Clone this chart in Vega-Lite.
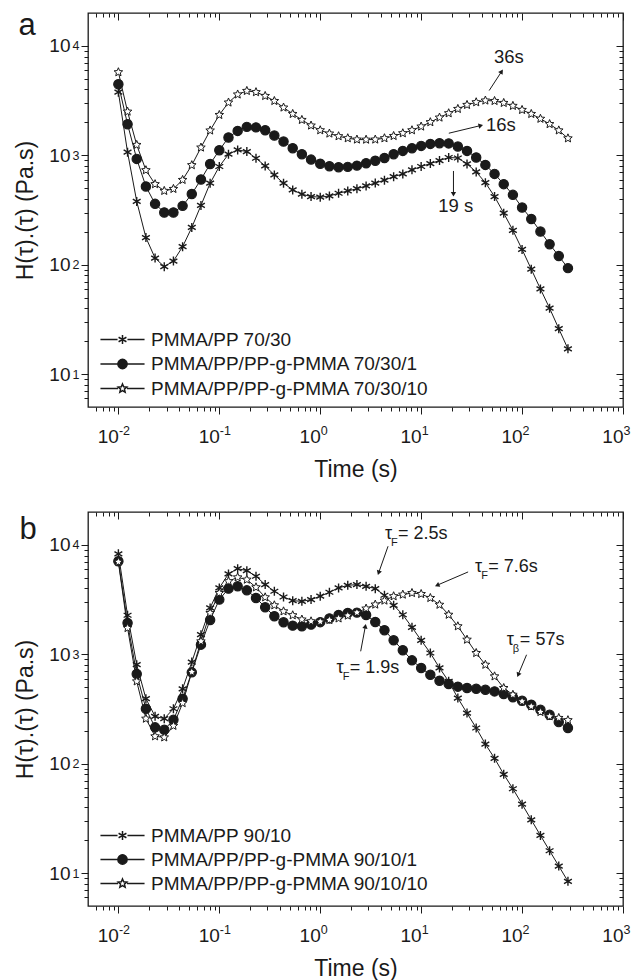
{
"$schema": "https://vega.github.io/schema/vega-lite/v6.json",
"background": "white",
"padding": {"left": 14, "top": 8, "right": 5, "bottom": 0},
"spacing": 28,
"config": {
  "font": "Liberation Sans",
  "view": {"stroke": "#1a1a1a", "strokeWidth": 1.3},
  "axis": {"grid": false, "domain": false, "tickColor": "#1a1a1a", "tickWidth": 1, "labelColor": "#1a1a1a", "titleColor": "#1a1a1a", "labelFont": "Liberation Sans", "titleFont": "Liberation Sans", "titleFontWeight": "normal", "labelFlush": false, "labelOverlap": false},
  "text": {"font": "Liberation Sans", "color": "#1a1a1a"}
},
"datasets": {
"curves": [
{"p":"a","s":"PMMA/PP 70/30","t":0.01,"v":3780},{"p":"a","s":"PMMA/PP 70/30","t":0.01233,"v":1067},{"p":"a","s":"PMMA/PP 70/30","t":0.0152,"v":379},{"p":"a","s":"PMMA/PP 70/30","t":0.01874,"v":177},{"p":"a","s":"PMMA/PP 70/30","t":0.0231,"v":115},{"p":"a","s":"PMMA/PP 70/30","t":0.02848,"v":96},{"p":"a","s":"PMMA/PP 70/30","t":0.03511,"v":108},{"p":"a","s":"PMMA/PP 70/30","t":0.04329,"v":146},{"p":"a","s":"PMMA/PP 70/30","t":0.05337,"v":219},{"p":"a","s":"PMMA/PP 70/30","t":0.06579,"v":348},
{"p":"a","s":"PMMA/PP 70/30","t":0.08111,"v":556},{"p":"a","s":"PMMA/PP 70/30","t":0.1,"v":790},{"p":"a","s":"PMMA/PP 70/30","t":0.1233,"v":1023},{"p":"a","s":"PMMA/PP 70/30","t":0.152,"v":1120},{"p":"a","s":"PMMA/PP 70/30","t":0.1874,"v":1083},{"p":"a","s":"PMMA/PP 70/30","t":0.231,"v":940},{"p":"a","s":"PMMA/PP 70/30","t":0.2848,"v":800},{"p":"a","s":"PMMA/PP 70/30","t":0.3511,"v":662},{"p":"a","s":"PMMA/PP 70/30","t":0.4329,"v":556},{"p":"a","s":"PMMA/PP 70/30","t":0.5337,"v":483},
{"p":"a","s":"PMMA/PP 70/30","t":0.6579,"v":441},{"p":"a","s":"PMMA/PP 70/30","t":0.8111,"v":420},{"p":"a","s":"PMMA/PP 70/30","t":1,"v":414},{"p":"a","s":"PMMA/PP 70/30","t":1.233,"v":425},{"p":"a","s":"PMMA/PP 70/30","t":1.52,"v":450},{"p":"a","s":"PMMA/PP 70/30","t":1.874,"v":472},{"p":"a","s":"PMMA/PP 70/30","t":2.31,"v":495},{"p":"a","s":"PMMA/PP 70/30","t":2.848,"v":525},{"p":"a","s":"PMMA/PP 70/30","t":3.511,"v":558},{"p":"a","s":"PMMA/PP 70/30","t":4.329,"v":592},
{"p":"a","s":"PMMA/PP 70/30","t":5.337,"v":638},{"p":"a","s":"PMMA/PP 70/30","t":6.579,"v":676},{"p":"a","s":"PMMA/PP 70/30","t":8.111,"v":736},{"p":"a","s":"PMMA/PP 70/30","t":10,"v":790},{"p":"a","s":"PMMA/PP 70/30","t":12.33,"v":841},{"p":"a","s":"PMMA/PP 70/30","t":15.2,"v":895},{"p":"a","s":"PMMA/PP 70/30","t":18.74,"v":955},{"p":"a","s":"PMMA/PP 70/30","t":23.1,"v":945},{"p":"a","s":"PMMA/PP 70/30","t":28.48,"v":835},{"p":"a","s":"PMMA/PP 70/30","t":35.11,"v":705},
{"p":"a","s":"PMMA/PP 70/30","t":43.29,"v":562},{"p":"a","s":"PMMA/PP 70/30","t":53.37,"v":420},{"p":"a","s":"PMMA/PP 70/30","t":65.79,"v":296},{"p":"a","s":"PMMA/PP 70/30","t":81.11,"v":206},{"p":"a","s":"PMMA/PP 70/30","t":100,"v":138},{"p":"a","s":"PMMA/PP 70/30","t":123.3,"v":91},{"p":"a","s":"PMMA/PP 70/30","t":152,"v":60},{"p":"a","s":"PMMA/PP 70/30","t":187.4,"v":40},{"p":"a","s":"PMMA/PP 70/30","t":231,"v":26},{"p":"a","s":"PMMA/PP 70/30","t":284.8,"v":17},
{"p":"a","s":"PMMA/PP/PP-g-PMMA 70/30/1","t":0.01,"v":4470},{"p":"a","s":"PMMA/PP/PP-g-PMMA 70/30/1","t":0.01233,"v":1923},{"p":"a","s":"PMMA/PP/PP-g-PMMA 70/30/1","t":0.0152,"v":927},{"p":"a","s":"PMMA/PP/PP-g-PMMA 70/30/1","t":0.01874,"v":519},{"p":"a","s":"PMMA/PP/PP-g-PMMA 70/30/1","t":0.0231,"v":360},{"p":"a","s":"PMMA/PP/PP-g-PMMA 70/30/1","t":0.02848,"v":300},{"p":"a","s":"PMMA/PP/PP-g-PMMA 70/30/1","t":0.03511,"v":300},{"p":"a","s":"PMMA/PP/PP-g-PMMA 70/30/1","t":0.04329,"v":345},{"p":"a","s":"PMMA/PP/PP-g-PMMA 70/30/1","t":0.05337,"v":443},{"p":"a","s":"PMMA/PP/PP-g-PMMA 70/30/1","t":0.06579,"v":601},
{"p":"a","s":"PMMA/PP/PP-g-PMMA 70/30/1","t":0.08111,"v":834},{"p":"a","s":"PMMA/PP/PP-g-PMMA 70/30/1","t":0.1,"v":1113},{"p":"a","s":"PMMA/PP/PP-g-PMMA 70/30/1","t":0.1233,"v":1455},{"p":"a","s":"PMMA/PP/PP-g-PMMA 70/30/1","t":0.152,"v":1671},{"p":"a","s":"PMMA/PP/PP-g-PMMA 70/30/1","t":0.1874,"v":1820},{"p":"a","s":"PMMA/PP/PP-g-PMMA 70/30/1","t":0.231,"v":1800},{"p":"a","s":"PMMA/PP/PP-g-PMMA 70/30/1","t":0.2848,"v":1695},{"p":"a","s":"PMMA/PP/PP-g-PMMA 70/30/1","t":0.3511,"v":1517},{"p":"a","s":"PMMA/PP/PP-g-PMMA 70/30/1","t":0.4329,"v":1337},{"p":"a","s":"PMMA/PP/PP-g-PMMA 70/30/1","t":0.5337,"v":1161},
{"p":"a","s":"PMMA/PP/PP-g-PMMA 70/30/1","t":0.6579,"v":1023},{"p":"a","s":"PMMA/PP/PP-g-PMMA 70/30/1","t":0.8111,"v":914},{"p":"a","s":"PMMA/PP/PP-g-PMMA 70/30/1","t":1,"v":838},{"p":"a","s":"PMMA/PP/PP-g-PMMA 70/30/1","t":1.233,"v":795},{"p":"a","s":"PMMA/PP/PP-g-PMMA 70/30/1","t":1.52,"v":778},{"p":"a","s":"PMMA/PP/PP-g-PMMA 70/30/1","t":1.874,"v":784},{"p":"a","s":"PMMA/PP/PP-g-PMMA 70/30/1","t":2.31,"v":805},{"p":"a","s":"PMMA/PP/PP-g-PMMA 70/30/1","t":2.848,"v":846},{"p":"a","s":"PMMA/PP/PP-g-PMMA 70/30/1","t":3.511,"v":892},{"p":"a","s":"PMMA/PP/PP-g-PMMA 70/30/1","t":4.329,"v":945},
{"p":"a","s":"PMMA/PP/PP-g-PMMA 70/30/1","t":5.337,"v":1023},{"p":"a","s":"PMMA/PP/PP-g-PMMA 70/30/1","t":6.579,"v":1097},{"p":"a","s":"PMMA/PP/PP-g-PMMA 70/30/1","t":8.111,"v":1161},{"p":"a","s":"PMMA/PP/PP-g-PMMA 70/30/1","t":10,"v":1219},{"p":"a","s":"PMMA/PP/PP-g-PMMA 70/30/1","t":12.33,"v":1271},{"p":"a","s":"PMMA/PP/PP-g-PMMA 70/30/1","t":15.2,"v":1291},{"p":"a","s":"PMMA/PP/PP-g-PMMA 70/30/1","t":18.74,"v":1285},{"p":"a","s":"PMMA/PP/PP-g-PMMA 70/30/1","t":23.1,"v":1203},{"p":"a","s":"PMMA/PP/PP-g-PMMA 70/30/1","t":28.48,"v":1097},{"p":"a","s":"PMMA/PP/PP-g-PMMA 70/30/1","t":35.11,"v":955},
{"p":"a","s":"PMMA/PP/PP-g-PMMA 70/30/1","t":43.29,"v":817},{"p":"a","s":"PMMA/PP/PP-g-PMMA 70/30/1","t":53.37,"v":676},{"p":"a","s":"PMMA/PP/PP-g-PMMA 70/30/1","t":65.79,"v":545},{"p":"a","s":"PMMA/PP/PP-g-PMMA 70/30/1","t":81.11,"v":435},{"p":"a","s":"PMMA/PP/PP-g-PMMA 70/30/1","t":100,"v":333},{"p":"a","s":"PMMA/PP/PP-g-PMMA 70/30/1","t":123.3,"v":262},{"p":"a","s":"PMMA/PP/PP-g-PMMA 70/30/1","t":152,"v":201},{"p":"a","s":"PMMA/PP/PP-g-PMMA 70/30/1","t":187.4,"v":154},{"p":"a","s":"PMMA/PP/PP-g-PMMA 70/30/1","t":231,"v":120},{"p":"a","s":"PMMA/PP/PP-g-PMMA 70/30/1","t":284.8,"v":93},
{"p":"a","s":"PMMA/PP/PP-g-PMMA 70/30/10","t":0.01,"v":5750},{"p":"a","s":"PMMA/PP/PP-g-PMMA 70/30/10","t":0.01233,"v":2510},{"p":"a","s":"PMMA/PP/PP-g-PMMA 70/30/10","t":0.0152,"v":1245},{"p":"a","s":"PMMA/PP/PP-g-PMMA 70/30/10","t":0.01874,"v":731},{"p":"a","s":"PMMA/PP/PP-g-PMMA 70/30/10","t":0.0231,"v":545},{"p":"a","s":"PMMA/PP/PP-g-PMMA 70/30/10","t":0.02848,"v":473},{"p":"a","s":"PMMA/PP/PP-g-PMMA 70/30/10","t":0.03511,"v":493},{"p":"a","s":"PMMA/PP/PP-g-PMMA 70/30/10","t":0.04329,"v":596},{"p":"a","s":"PMMA/PP/PP-g-PMMA 70/30/10","t":0.05337,"v":813},{"p":"a","s":"PMMA/PP/PP-g-PMMA 70/30/10","t":0.06579,"v":1178},
{"p":"a","s":"PMMA/PP/PP-g-PMMA 70/30/10","t":0.08111,"v":1687},{"p":"a","s":"PMMA/PP/PP-g-PMMA 70/30/10","t":0.1,"v":2340},{"p":"a","s":"PMMA/PP/PP-g-PMMA 70/30/10","t":0.1233,"v":3040},{"p":"a","s":"PMMA/PP/PP-g-PMMA 70/30/10","t":0.152,"v":3600},{"p":"a","s":"PMMA/PP/PP-g-PMMA 70/30/10","t":0.1874,"v":3880},{"p":"a","s":"PMMA/PP/PP-g-PMMA 70/30/10","t":0.231,"v":3780},{"p":"a","s":"PMMA/PP/PP-g-PMMA 70/30/10","t":0.2848,"v":3490},{"p":"a","s":"PMMA/PP/PP-g-PMMA 70/30/10","t":0.3511,"v":3140},{"p":"a","s":"PMMA/PP/PP-g-PMMA 70/30/10","t":0.4329,"v":2735},{"p":"a","s":"PMMA/PP/PP-g-PMMA 70/30/10","t":0.5337,"v":2390},
{"p":"a","s":"PMMA/PP/PP-g-PMMA 70/30/10","t":0.6579,"v":2107},{"p":"a","s":"PMMA/PP/PP-g-PMMA 70/30/10","t":0.8111,"v":1872},{"p":"a","s":"PMMA/PP/PP-g-PMMA 70/30/10","t":1,"v":1695},{"p":"a","s":"PMMA/PP/PP-g-PMMA 70/30/10","t":1.233,"v":1582},{"p":"a","s":"PMMA/PP/PP-g-PMMA 70/30/10","t":1.52,"v":1495},{"p":"a","s":"PMMA/PP/PP-g-PMMA 70/30/10","t":1.874,"v":1433},{"p":"a","s":"PMMA/PP/PP-g-PMMA 70/30/10","t":2.31,"v":1394},{"p":"a","s":"PMMA/PP/PP-g-PMMA 70/30/10","t":2.848,"v":1390},{"p":"a","s":"PMMA/PP/PP-g-PMMA 70/30/10","t":3.511,"v":1394},{"p":"a","s":"PMMA/PP/PP-g-PMMA 70/30/10","t":4.329,"v":1433},
{"p":"a","s":"PMMA/PP/PP-g-PMMA 70/30/10","t":5.337,"v":1503},{"p":"a","s":"PMMA/PP/PP-g-PMMA 70/30/10","t":6.579,"v":1592},{"p":"a","s":"PMMA/PP/PP-g-PMMA 70/30/10","t":8.111,"v":1695},{"p":"a","s":"PMMA/PP/PP-g-PMMA 70/30/10","t":10,"v":1833},{"p":"a","s":"PMMA/PP/PP-g-PMMA 70/30/10","t":12.33,"v":2009},{"p":"a","s":"PMMA/PP/PP-g-PMMA 70/30/10","t":15.2,"v":2215},{"p":"a","s":"PMMA/PP/PP-g-PMMA 70/30/10","t":18.74,"v":2425},{"p":"a","s":"PMMA/PP/PP-g-PMMA 70/30/10","t":23.1,"v":2656},{"p":"a","s":"PMMA/PP/PP-g-PMMA 70/30/10","t":28.48,"v":2890},{"p":"a","s":"PMMA/PP/PP-g-PMMA 70/30/10","t":35.11,"v":3057},
{"p":"a","s":"PMMA/PP/PP-g-PMMA 70/30/10","t":43.29,"v":3170},{"p":"a","s":"PMMA/PP/PP-g-PMMA 70/30/10","t":53.37,"v":3140},{"p":"a","s":"PMMA/PP/PP-g-PMMA 70/30/10","t":65.79,"v":3013},{"p":"a","s":"PMMA/PP/PP-g-PMMA 70/30/10","t":81.11,"v":2833},{"p":"a","s":"PMMA/PP/PP-g-PMMA 70/30/10","t":100,"v":2600},{"p":"a","s":"PMMA/PP/PP-g-PMMA 70/30/10","t":123.3,"v":2390},{"p":"a","s":"PMMA/PP/PP-g-PMMA 70/30/10","t":152,"v":2160},{"p":"a","s":"PMMA/PP/PP-g-PMMA 70/30/10","t":187.4,"v":1930},{"p":"a","s":"PMMA/PP/PP-g-PMMA 70/30/10","t":231,"v":1690},{"p":"a","s":"PMMA/PP/PP-g-PMMA 70/30/10","t":284.8,"v":1430},
{"p":"b","s":"PMMA/PP 90/10","t":0.01,"v":8300},{"p":"b","s":"PMMA/PP 90/10","t":0.01233,"v":2275},{"p":"b","s":"PMMA/PP 90/10","t":0.0152,"v":803},{"p":"b","s":"PMMA/PP 90/10","t":0.01874,"v":393},{"p":"b","s":"PMMA/PP 90/10","t":0.0231,"v":271},{"p":"b","s":"PMMA/PP 90/10","t":0.02848,"v":258},{"p":"b","s":"PMMA/PP 90/10","t":0.03511,"v":318},{"p":"b","s":"PMMA/PP 90/10","t":0.04329,"v":484},{"p":"b","s":"PMMA/PP 90/10","t":0.05337,"v":849},{"p":"b","s":"PMMA/PP 90/10","t":0.06579,"v":1511},
{"p":"b","s":"PMMA/PP 90/10","t":0.08111,"v":2654},{"p":"b","s":"PMMA/PP 90/10","t":0.1,"v":4046},{"p":"b","s":"PMMA/PP 90/10","t":0.1233,"v":5432},{"p":"b","s":"PMMA/PP 90/10","t":0.152,"v":6066},{"p":"b","s":"PMMA/PP 90/10","t":0.1874,"v":5820},{"p":"b","s":"PMMA/PP 90/10","t":0.231,"v":5172},{"p":"b","s":"PMMA/PP 90/10","t":0.2848,"v":4338},{"p":"b","s":"PMMA/PP 90/10","t":0.3511,"v":3770},{"p":"b","s":"PMMA/PP 90/10","t":0.4329,"v":3342},{"p":"b","s":"PMMA/PP 90/10","t":0.5337,"v":3093},
{"p":"b","s":"PMMA/PP 90/10","t":0.6579,"v":3050},{"p":"b","s":"PMMA/PP 90/10","t":0.8111,"v":3163},{"p":"b","s":"PMMA/PP 90/10","t":1,"v":3397},{"p":"b","s":"PMMA/PP 90/10","t":1.233,"v":3694},{"p":"b","s":"PMMA/PP 90/10","t":1.52,"v":4046},{"p":"b","s":"PMMA/PP 90/10","t":1.874,"v":4274},{"p":"b","s":"PMMA/PP 90/10","t":2.31,"v":4338},{"p":"b","s":"PMMA/PP 90/10","t":2.848,"v":4188},{"p":"b","s":"PMMA/PP 90/10","t":3.511,"v":3985},{"p":"b","s":"PMMA/PP 90/10","t":4.329,"v":3467},
{"p":"b","s":"PMMA/PP 90/10","t":5.337,"v":2807},{"p":"b","s":"PMMA/PP 90/10","t":6.579,"v":2300},{"p":"b","s":"PMMA/PP 90/10","t":8.111,"v":1766},{"p":"b","s":"PMMA/PP 90/10","t":10,"v":1343},{"p":"b","s":"PMMA/PP 90/10","t":12.33,"v":1028},{"p":"b","s":"PMMA/PP 90/10","t":15.2,"v":750},{"p":"b","s":"PMMA/PP 90/10","t":18.74,"v":566},{"p":"b","s":"PMMA/PP 90/10","t":23.1,"v":398},{"p":"b","s":"PMMA/PP 90/10","t":28.48,"v":290},{"p":"b","s":"PMMA/PP 90/10","t":35.11,"v":212},
{"p":"b","s":"PMMA/PP 90/10","t":43.29,"v":151},{"p":"b","s":"PMMA/PP 90/10","t":53.37,"v":112},{"p":"b","s":"PMMA/PP 90/10","t":65.79,"v":80},{"p":"b","s":"PMMA/PP 90/10","t":81.11,"v":59},{"p":"b","s":"PMMA/PP 90/10","t":100,"v":42.6},{"p":"b","s":"PMMA/PP 90/10","t":123.3,"v":30.7},{"p":"b","s":"PMMA/PP 90/10","t":152,"v":22.1},{"p":"b","s":"PMMA/PP 90/10","t":187.4,"v":16},{"p":"b","s":"PMMA/PP 90/10","t":231,"v":11.6},{"p":"b","s":"PMMA/PP 90/10","t":284.8,"v":8.4},
{"p":"b","s":"PMMA/PP/PP-g-PMMA 90/10/1","t":0.01,"v":7100},{"p":"b","s":"PMMA/PP/PP-g-PMMA 90/10/1","t":0.01233,"v":1933},{"p":"b","s":"PMMA/PP/PP-g-PMMA 90/10/1","t":0.0152,"v":661},{"p":"b","s":"PMMA/PP/PP-g-PMMA 90/10/1","t":0.01874,"v":318},{"p":"b","s":"PMMA/PP/PP-g-PMMA 90/10/1","t":0.0231,"v":215},{"p":"b","s":"PMMA/PP/PP-g-PMMA 90/10/1","t":0.02848,"v":204},{"p":"b","s":"PMMA/PP/PP-g-PMMA 90/10/1","t":0.03511,"v":252},{"p":"b","s":"PMMA/PP/PP-g-PMMA 90/10/1","t":0.04329,"v":393},{"p":"b","s":"PMMA/PP/PP-g-PMMA 90/10/1","t":0.05337,"v":684},{"p":"b","s":"PMMA/PP/PP-g-PMMA 90/10/1","t":0.06579,"v":1225},
{"p":"b","s":"PMMA/PP/PP-g-PMMA 90/10/1","t":0.08111,"v":2059},{"p":"b","s":"PMMA/PP/PP-g-PMMA 90/10/1","t":0.1,"v":3163},{"p":"b","s":"PMMA/PP/PP-g-PMMA 90/10/1","t":0.1233,"v":3985},{"p":"b","s":"PMMA/PP/PP-g-PMMA 90/10/1","t":0.152,"v":4188},{"p":"b","s":"PMMA/PP/PP-g-PMMA 90/10/1","t":0.1874,"v":3843},{"p":"b","s":"PMMA/PP/PP-g-PMMA 90/10/1","t":0.231,"v":3275},{"p":"b","s":"PMMA/PP/PP-g-PMMA 90/10/1","t":0.2848,"v":2692},{"p":"b","s":"PMMA/PP/PP-g-PMMA 90/10/1","t":0.3511,"v":2228},{"p":"b","s":"PMMA/PP/PP-g-PMMA 90/10/1","t":0.4329,"v":1963},{"p":"b","s":"PMMA/PP/PP-g-PMMA 90/10/1","t":0.5337,"v":1829},
{"p":"b","s":"PMMA/PP/PP-g-PMMA 90/10/1","t":0.6579,"v":1805},{"p":"b","s":"PMMA/PP/PP-g-PMMA 90/10/1","t":0.8111,"v":1868},{"p":"b","s":"PMMA/PP/PP-g-PMMA 90/10/1","t":1,"v":1968},{"p":"b","s":"PMMA/PP/PP-g-PMMA 90/10/1","t":1.233,"v":2130},{"p":"b","s":"PMMA/PP/PP-g-PMMA 90/10/1","t":1.52,"v":2288},{"p":"b","s":"PMMA/PP/PP-g-PMMA 90/10/1","t":1.874,"v":2388},{"p":"b","s":"PMMA/PP/PP-g-PMMA 90/10/1","t":2.31,"v":2405},{"p":"b","s":"PMMA/PP/PP-g-PMMA 90/10/1","t":2.848,"v":2288},{"p":"b","s":"PMMA/PP/PP-g-PMMA 90/10/1","t":3.511,"v":1977},{"p":"b","s":"PMMA/PP/PP-g-PMMA 90/10/1","t":4.329,"v":1662},
{"p":"b","s":"PMMA/PP/PP-g-PMMA 90/10/1","t":5.337,"v":1343},{"p":"b","s":"PMMA/PP/PP-g-PMMA 90/10/1","t":6.579,"v":1089},{"p":"b","s":"PMMA/PP/PP-g-PMMA 90/10/1","t":8.111,"v":881},{"p":"b","s":"PMMA/PP/PP-g-PMMA 90/10/1","t":10,"v":750},{"p":"b","s":"PMMA/PP/PP-g-PMMA 90/10/1","t":12.33,"v":650},{"p":"b","s":"PMMA/PP/PP-g-PMMA 90/10/1","t":15.2,"v":574},{"p":"b","s":"PMMA/PP/PP-g-PMMA 90/10/1","t":18.74,"v":535},{"p":"b","s":"PMMA/PP/PP-g-PMMA 90/10/1","t":23.1,"v":506},{"p":"b","s":"PMMA/PP/PP-g-PMMA 90/10/1","t":28.48,"v":492},{"p":"b","s":"PMMA/PP/PP-g-PMMA 90/10/1","t":35.11,"v":484},
{"p":"b","s":"PMMA/PP/PP-g-PMMA 90/10/1","t":43.29,"v":474},{"p":"b","s":"PMMA/PP/PP-g-PMMA 90/10/1","t":53.37,"v":458},{"p":"b","s":"PMMA/PP/PP-g-PMMA 90/10/1","t":65.79,"v":433},{"p":"b","s":"PMMA/PP/PP-g-PMMA 90/10/1","t":81.11,"v":405},{"p":"b","s":"PMMA/PP/PP-g-PMMA 90/10/1","t":100,"v":376},{"p":"b","s":"PMMA/PP/PP-g-PMMA 90/10/1","t":123.3,"v":346},{"p":"b","s":"PMMA/PP/PP-g-PMMA 90/10/1","t":152,"v":311},{"p":"b","s":"PMMA/PP/PP-g-PMMA 90/10/1","t":187.4,"v":280},{"p":"b","s":"PMMA/PP/PP-g-PMMA 90/10/1","t":231,"v":240},{"p":"b","s":"PMMA/PP/PP-g-PMMA 90/10/1","t":284.8,"v":212},
{"p":"b","s":"PMMA/PP/PP-g-PMMA 90/10/10","t":0.01,"v":7000},{"p":"b","s":"PMMA/PP/PP-g-PMMA 90/10/10","t":0.01233,"v":1740},{"p":"b","s":"PMMA/PP/PP-g-PMMA 90/10/10","t":0.0152,"v":566},{"p":"b","s":"PMMA/PP/PP-g-PMMA 90/10/10","t":0.01874,"v":258},{"p":"b","s":"PMMA/PP/PP-g-PMMA 90/10/10","t":0.0231,"v":178},{"p":"b","s":"PMMA/PP/PP-g-PMMA 90/10/10","t":0.02848,"v":174},{"p":"b","s":"PMMA/PP/PP-g-PMMA 90/10/10","t":0.03511,"v":222},{"p":"b","s":"PMMA/PP/PP-g-PMMA 90/10/10","t":0.04329,"v":358},{"p":"b","s":"PMMA/PP/PP-g-PMMA 90/10/10","t":0.05337,"v":689},{"p":"b","s":"PMMA/PP/PP-g-PMMA 90/10/10","t":0.06579,"v":1314},
{"p":"b","s":"PMMA/PP/PP-g-PMMA 90/10/10","t":0.08111,"v":2388},{"p":"b","s":"PMMA/PP/PP-g-PMMA 90/10/10","t":0.1,"v":3637},{"p":"b","s":"PMMA/PP/PP-g-PMMA 90/10/10","t":0.1233,"v":4653},{"p":"b","s":"PMMA/PP/PP-g-PMMA 90/10/10","t":0.152,"v":5053},{"p":"b","s":"PMMA/PP/PP-g-PMMA 90/10/10","t":0.1874,"v":4816},{"p":"b","s":"PMMA/PP/PP-g-PMMA 90/10/10","t":0.231,"v":4100},{"p":"b","s":"PMMA/PP/PP-g-PMMA 90/10/10","t":0.2848,"v":3320},{"p":"b","s":"PMMA/PP/PP-g-PMMA 90/10/10","t":0.3511,"v":2807},{"p":"b","s":"PMMA/PP/PP-g-PMMA 90/10/10","t":0.4329,"v":2472},{"p":"b","s":"PMMA/PP/PP-g-PMMA 90/10/10","t":0.5337,"v":2275},
{"p":"b","s":"PMMA/PP/PP-g-PMMA 90/10/10","t":0.6579,"v":2080},{"p":"b","s":"PMMA/PP/PP-g-PMMA 90/10/10","t":0.8111,"v":2004},{"p":"b","s":"PMMA/PP/PP-g-PMMA 90/10/10","t":1,"v":1990},{"p":"b","s":"PMMA/PP/PP-g-PMMA 90/10/10","t":1.233,"v":2060},{"p":"b","s":"PMMA/PP/PP-g-PMMA 90/10/10","t":1.52,"v":2130},{"p":"b","s":"PMMA/PP/PP-g-PMMA 90/10/10","t":1.874,"v":2260},{"p":"b","s":"PMMA/PP/PP-g-PMMA 90/10/10","t":2.31,"v":2410},{"p":"b","s":"PMMA/PP/PP-g-PMMA 90/10/10","t":2.848,"v":2620},{"p":"b","s":"PMMA/PP/PP-g-PMMA 90/10/10","t":3.511,"v":2850},{"p":"b","s":"PMMA/PP/PP-g-PMMA 90/10/10","t":4.329,"v":3100},
{"p":"b","s":"PMMA/PP/PP-g-PMMA 90/10/10","t":5.337,"v":3397},{"p":"b","s":"PMMA/PP/PP-g-PMMA 90/10/10","t":6.579,"v":3514},{"p":"b","s":"PMMA/PP/PP-g-PMMA 90/10/10","t":8.111,"v":3637},{"p":"b","s":"PMMA/PP/PP-g-PMMA 90/10/10","t":10,"v":3560},{"p":"b","s":"PMMA/PP/PP-g-PMMA 90/10/10","t":12.33,"v":3275},{"p":"b","s":"PMMA/PP/PP-g-PMMA 90/10/10","t":15.2,"v":2840},{"p":"b","s":"PMMA/PP/PP-g-PMMA 90/10/10","t":18.74,"v":2300},{"p":"b","s":"PMMA/PP/PP-g-PMMA 90/10/10","t":23.1,"v":1805},{"p":"b","s":"PMMA/PP/PP-g-PMMA 90/10/10","t":28.48,"v":1361},{"p":"b","s":"PMMA/PP/PP-g-PMMA 90/10/10","t":35.11,"v":1028},
{"p":"b","s":"PMMA/PP/PP-g-PMMA 90/10/10","t":43.29,"v":803},{"p":"b","s":"PMMA/PP/PP-g-PMMA 90/10/10","t":53.37,"v":629},{"p":"b","s":"PMMA/PP/PP-g-PMMA 90/10/10","t":65.79,"v":492},{"p":"b","s":"PMMA/PP/PP-g-PMMA 90/10/10","t":81.11,"v":427},{"p":"b","s":"PMMA/PP/PP-g-PMMA 90/10/10","t":100,"v":371},{"p":"b","s":"PMMA/PP/PP-g-PMMA 90/10/10","t":123.3,"v":334},{"p":"b","s":"PMMA/PP/PP-g-PMMA 90/10/10","t":152,"v":297},{"p":"b","s":"PMMA/PP/PP-g-PMMA 90/10/10","t":187.4,"v":271},{"p":"b","s":"PMMA/PP/PP-g-PMMA 90/10/10","t":231,"v":262},{"p":"b","s":"PMMA/PP/PP-g-PMMA 90/10/10","t":284.8,"v":250}
],
"notes": [
{"p":"a","label":"36s","sub":"","t":74,"v":7890},
{"p":"a","label":"16s","sub":"","t":61.7,"v":1884},
{"p":"a","label":"19 s","sub":"","t":22,"v":343},
{"p":"b","label":"= 2.5s","sub":"F","t":5.9,"v":11420},
{"p":"b","label":"= 7.6s","sub":"F","t":46.1,"v":5665},
{"p":"b","label":"= 1.9s","sub":"F","t":1.957,"v":674},
{"p":"b","label":"= 57s","sub":"β","t":95.1,"v":1225}
],
"arrows": [
{"p":"a","id":"a36","t":47.2,"v":3908,"t2":62.7,"v2":5840},
{"p":"a","id":"a16","t":18.8,"v":1592,"t2":39,"v2":1872},
{"p":"a","id":"a19","t":20.9,"v":719,"t2":20.9,"v2":441},
{"p":"b","id":"b25","t":4.7,"v":9730,"t2":3.79,"v2":5550},
{"p":"b","id":"b76","t":29.2,"v":5665,"t2":14.4,"v2":4280},
{"p":"b","id":"b19","t":2.517,"v":1065,"t2":2.8,"v2":1803},
{"p":"b","id":"b57","t":110.8,"v":991,"t2":91.5,"v2":650}
]
},
"vconcat": [
{
"width": 535, "height": 394,
"resolve": {"axis": {"x": "independent", "y": "independent"}, "scale": {"shape": "independent", "fill": "independent", "strokeWidth": "independent"}},
"layer": [
{"data": {"name": "curves"}, "transform": [{"filter": "datum.p == 'a'"}],
 "mark": {"type": "line", "stroke": "#1a1a1a", "strokeWidth": 1},
 "encoding": {
  "x": {"field": "t", "type": "quantitative", "scale": {"type": "log", "domain": [0.005, 1000]},
        "axis": {"orient": "bottom", "values": [0.01,0.1,1,10,100,1000], "labelExpr": "'10'", "labelAlign": "right", "labelDx": 6, "labelBaseline": "middle", "labelPadding": 22, "labelFontSize": 19, "tickSize": 7, "title": "Time (s)", "titleFontSize": 23, "titlePadding": 12}},
  "y": {"field": "v", "type": "quantitative", "scale": {"type": "log", "domain": [5, 20000]},
        "axis": {"orient": "left", "values": [10,100,1000,10000], "labelExpr": "'10'", "labelAlign": "right", "labelBaseline": "middle", "labelDy": 1, "labelPadding": 11, "labelFontSize": 19, "tickSize": 7, "title": "H(τ).(τ) (Pa.s)", "titleFontSize": 23, "titlePadding": 11}},
  "detail": {"field": "s", "type": "nominal"}
 }},
{"data": {"name": "curves"}, "transform": [{"filter": "datum.p == 'a'"}],
 "mark": {"type": "point", "filled": true, "size": 81, "stroke": "#1a1a1a", "opacity": 1},
 "encoding": {
  "x": {"field": "t", "type": "quantitative", "scale": {"type": "log", "domain": [0.005, 1000]},
        "axis": {"orient": "bottom", "values": [0.01,0.1,1,10,100,1000], "labelExpr": "'' + round(log(datum.value)/LN10)", "labelAlign": "left", "labelDx": 7, "labelBaseline": "middle", "ticks": false, "tickSize": 0, "labelPadding": 23, "labelFontSize": 12.5, "title": null}},
  "y": {"field": "v", "type": "quantitative", "scale": {"type": "log", "domain": [5, 20000]},
        "axis": {"orient": "left", "values": [10,100,1000,10000], "labelExpr": "'' + round(log(datum.value)/LN10)", "labelAlign": "left", "labelBaseline": "middle", "labelDy": -5, "ticks": false, "tickSize": 0, "labelPadding": 16, "labelFontSize": 12.5, "title": null}},
  "shape": {"field": "s", "type": "nominal", "scale": {"domain": ["PMMA/PP 70/30", "PMMA/PP/PP-g-PMMA 70/30/1", "PMMA/PP/PP-g-PMMA 70/30/10"], "range": ["M0,-1L0,1M-0.87,-0.5L0.87,0.5M-0.87,0.5L0.87,-0.5", "M1.03,0A1.03,1.03,0,1,1,-1.03,0A1.03,1.03,0,1,1,1.03,0Z", "M0,-1L0.265,-0.364L0.951,-0.309L0.428,0.139L0.588,0.809L0,0.45L-0.588,0.809L-0.428,0.139L-0.951,-0.309L-0.265,-0.364Z"]}, "legend": null},
  "fill": {"field": "s", "type": "nominal", "scale": {"domain": ["PMMA/PP 70/30", "PMMA/PP/PP-g-PMMA 70/30/1", "PMMA/PP/PP-g-PMMA 70/30/10"], "range": ["transparent", "#1a1a1a", "#ffffff"]}, "legend": null},
  "strokeWidth": {"field": "s", "type": "nominal", "scale": {"domain": ["PMMA/PP 70/30", "PMMA/PP/PP-g-PMMA 70/30/1", "PMMA/PP/PP-g-PMMA 70/30/10"], "range": [1.4, 1, 1]}, "legend": null}
 }},
{"data": {"values": []},
 "mark": {"type": "point", "filled": true, "size": 81, "stroke": "#1a1a1a", "strokeWidth": 1, "opacity": 1},
 "encoding": {
  "x": {"field": "t", "type": "quantitative", "scale": {"type": "log", "domain": [0.005, 1000]},
        "axis": {"orient": "bottom", "values": [0.006,0.007,0.008,0.009,0.02,0.03,0.04,0.05,0.06,0.07,0.08,0.09,0.2,0.3,0.4,0.5,0.6,0.7,0.8,0.9,2,3,4,5,6,7,8,9,20,30,40,50,60,70,80,90,200,300,400,500,600,700,800,900], "labels": false, "tickSize": 4, "title": null}},
  "y": {"field": "v", "type": "quantitative", "scale": {"type": "log", "domain": [5, 20000]},
        "axis": {"orient": "left", "values": [6,7,8,9,20,30,40,50,60,70,80,90,200,300,400,500,600,700,800,900,2000,3000,4000,5000,6000,7000,8000,9000], "labels": false, "tickSize": 4, "title": "a", "titleAngle": 0, "titleX": -70, "titleY": 21, "titleAlign": "left", "titleBaseline": "alphabetic", "titleFontSize": 31}},
  "shape": {"field": "s", "type": "nominal", "scale": {"domain": ["PMMA/PP 70/30", "PMMA/PP/PP-g-PMMA 70/30/1", "PMMA/PP/PP-g-PMMA 70/30/10"], "range": ["M-4.9,0L-1.1,0M1.1,0L4.9,0M0,-1L0,1M-0.87,-0.5L0.87,0.5M-0.87,0.5L0.87,-0.5", "M-4.9,0L-1.03,0M1.03,0L4.9,0M1.03,0A1.03,1.03,0,1,1,-1.03,0A1.03,1.03,0,1,1,1.03,0Z", "M-4.9,0L-1,0M1,0L4.9,0M0,-1L0.265,-0.364L0.951,-0.309L0.428,0.139L0.588,0.809L0,0.45L-0.588,0.809L-0.428,0.139L-0.951,-0.309L-0.265,-0.364Z"]},
    "legend": {"title": null, "orient": "none", "legendX": 25, "legendY": 317, "labelFontSize": 19, "labelFont": "Liberation Sans", "labelColor": "#1a1a1a", "labelLimit": 400, "symbolSize": 81, "labelOffset": 19, "rowPadding": 4.5, "encode": {"symbols": {"update": {"stroke": {"value": "#1a1a1a"}, "strokeWidth": {"value": 1}}}}}},
  "fill": {"field": "s", "type": "nominal", "scale": {"domain": ["PMMA/PP 70/30", "PMMA/PP/PP-g-PMMA 70/30/1", "PMMA/PP/PP-g-PMMA 70/30/10"], "range": ["transparent", "#1a1a1a", "#ffffff"]},
    "legend": {"title": null, "orient": "none", "legendX": 25, "legendY": 317, "labelFontSize": 19, "labelFont": "Liberation Sans", "labelColor": "#1a1a1a", "labelLimit": 400, "symbolSize": 81, "labelOffset": 19, "rowPadding": 4.5, "encode": {"symbols": {"update": {"stroke": {"value": "#1a1a1a"}, "strokeWidth": {"value": 1}}}}}}
 }},
{"data": {"name": "notes"}, "transform": [{"filter": "datum.p == 'a'"}],
 "mark": {"type": "text", "fontSize": 18.5, "align": "center", "baseline": "middle", "color": "#1a1a1a"},
 "encoding": {
  "x": {"field": "t", "type": "quantitative", "scale": {"type": "log", "domain": [0.005, 1000]},
        "axis": {"orient": "top", "values": [0.01,0.1,1,10,100,1000], "labels": false, "tickSize": 7, "offset": -7, "title": null}},
  "y": {"field": "v", "type": "quantitative", "scale": {"type": "log", "domain": [5, 20000]},
        "axis": {"orient": "right", "values": [10,100,1000,10000], "labels": false, "tickSize": 7, "offset": -7, "title": null}},
  "text": {"field": "label"}
 }},
{"data": {"name": "arrows"}, "transform": [{"filter": "datum.p == 'a'"}],
 "mark": {"type": "rule", "stroke": "#1a1a1a", "strokeWidth": 1},
 "encoding": {
  "x": {"field": "t", "type": "quantitative", "scale": {"type": "log", "domain": [0.005, 1000]},
        "axis": {"orient": "top", "values": [0.006,0.007,0.008,0.009,0.02,0.03,0.04,0.05,0.06,0.07,0.08,0.09,0.2,0.3,0.4,0.5,0.6,0.7,0.8,0.9,2,3,4,5,6,7,8,9,20,30,40,50,60,70,80,90,200,300,400,500,600,700,800,900], "labels": false, "tickSize": 4, "offset": -4, "title": null}},
  "y": {"field": "v", "type": "quantitative", "scale": {"type": "log", "domain": [5, 20000]},
        "axis": {"orient": "right", "values": [6,7,8,9,20,30,40,50,60,70,80,90,200,300,400,500,600,700,800,900,2000,3000,4000,5000,6000,7000,8000,9000], "labels": false, "tickSize": 4, "offset": -4, "title": null}},
  "x2": {"field": "t2"},
  "y2": {"field": "v2"}
 }},
{"data": {"name": "arrows"}, "transform": [{"filter": "datum.p == 'a'"}],
 "mark": {"type": "point", "shape": "triangle-up", "filled": true, "size": 28, "color": "#1a1a1a", "opacity": 1},
 "encoding": {
  "x": {"field": "t2", "type": "quantitative", "scale": {"type": "log", "domain": [0.005, 1000]}, "axis": null},
  "y": {"field": "v2", "type": "quantitative", "scale": {"type": "log", "domain": [5, 20000]}, "axis": null},
  "angle": {"condition": [{"test": "datum.id == 'a36'", "value": 33}, {"test": "datum.id == 'a16'", "value": 76}], "value": 180}
 }}
]
},
{
"width": 535, "height": 394,
"resolve": {"axis": {"x": "independent", "y": "independent"}, "scale": {"shape": "independent", "fill": "independent", "strokeWidth": "independent"}},
"layer": [
{"data": {"name": "curves"}, "transform": [{"filter": "datum.p == 'b'"}],
 "mark": {"type": "line", "stroke": "#1a1a1a", "strokeWidth": 1},
 "encoding": {
  "x": {"field": "t", "type": "quantitative", "scale": {"type": "log", "domain": [0.005, 1000]},
        "axis": {"orient": "bottom", "values": [0.01,0.1,1,10,100,1000], "labelExpr": "'10'", "labelAlign": "right", "labelDx": 6, "labelBaseline": "middle", "labelPadding": 22, "labelFontSize": 19, "tickSize": 7, "title": "Time (s)", "titleFontSize": 23, "titlePadding": 12}},
  "y": {"field": "v", "type": "quantitative", "scale": {"type": "log", "domain": [5, 20000]},
        "axis": {"orient": "left", "values": [10,100,1000,10000], "labelExpr": "'10'", "labelAlign": "right", "labelBaseline": "middle", "labelDy": 1, "labelPadding": 11, "labelFontSize": 19, "tickSize": 7, "title": "H(τ).(τ) (Pa.s)", "titleFontSize": 23, "titlePadding": 11}},
  "detail": {"field": "s", "type": "nominal"}
 }},
{"data": {"name": "curves"}, "transform": [{"filter": "datum.p == 'b'"}],
 "mark": {"type": "point", "filled": true, "size": 81, "stroke": "#1a1a1a", "opacity": 1},
 "encoding": {
  "x": {"field": "t", "type": "quantitative", "scale": {"type": "log", "domain": [0.005, 1000]},
        "axis": {"orient": "bottom", "values": [0.01,0.1,1,10,100,1000], "labelExpr": "'' + round(log(datum.value)/LN10)", "labelAlign": "left", "labelDx": 7, "labelBaseline": "middle", "ticks": false, "tickSize": 0, "labelPadding": 23, "labelFontSize": 12.5, "title": null}},
  "y": {"field": "v", "type": "quantitative", "scale": {"type": "log", "domain": [5, 20000]},
        "axis": {"orient": "left", "values": [10,100,1000,10000], "labelExpr": "'' + round(log(datum.value)/LN10)", "labelAlign": "left", "labelBaseline": "middle", "labelDy": -5, "ticks": false, "tickSize": 0, "labelPadding": 16, "labelFontSize": 12.5, "title": null}},
  "shape": {"field": "s", "type": "nominal", "scale": {"domain": ["PMMA/PP 90/10", "PMMA/PP/PP-g-PMMA 90/10/1", "PMMA/PP/PP-g-PMMA 90/10/10"], "range": ["M0,-1L0,1M-0.87,-0.5L0.87,0.5M-0.87,0.5L0.87,-0.5", "M1.03,0A1.03,1.03,0,1,1,-1.03,0A1.03,1.03,0,1,1,1.03,0Z", "M0,-1L0.265,-0.364L0.951,-0.309L0.428,0.139L0.588,0.809L0,0.45L-0.588,0.809L-0.428,0.139L-0.951,-0.309L-0.265,-0.364Z"]}, "legend": null},
  "fill": {"field": "s", "type": "nominal", "scale": {"domain": ["PMMA/PP 90/10", "PMMA/PP/PP-g-PMMA 90/10/1", "PMMA/PP/PP-g-PMMA 90/10/10"], "range": ["transparent", "#1a1a1a", "#ffffff"]}, "legend": null},
  "strokeWidth": {"field": "s", "type": "nominal", "scale": {"domain": ["PMMA/PP 90/10", "PMMA/PP/PP-g-PMMA 90/10/1", "PMMA/PP/PP-g-PMMA 90/10/10"], "range": [1.4, 1, 1]}, "legend": null}
 }},
{"data": {"values": []},
 "mark": {"type": "point", "filled": true, "size": 81, "stroke": "#1a1a1a", "strokeWidth": 1, "opacity": 1},
 "encoding": {
  "x": {"field": "t", "type": "quantitative", "scale": {"type": "log", "domain": [0.005, 1000]},
        "axis": {"orient": "bottom", "values": [0.006,0.007,0.008,0.009,0.02,0.03,0.04,0.05,0.06,0.07,0.08,0.09,0.2,0.3,0.4,0.5,0.6,0.7,0.8,0.9,2,3,4,5,6,7,8,9,20,30,40,50,60,70,80,90,200,300,400,500,600,700,800,900], "labels": false, "tickSize": 4, "title": null}},
  "y": {"field": "v", "type": "quantitative", "scale": {"type": "log", "domain": [5, 20000]},
        "axis": {"orient": "left", "values": [6,7,8,9,20,30,40,50,60,70,80,90,200,300,400,500,600,700,800,900,2000,3000,4000,5000,6000,7000,8000,9000], "labels": false, "tickSize": 4, "title": "b", "titleAngle": 0, "titleX": -69, "titleY": 26, "titleAlign": "left", "titleBaseline": "alphabetic", "titleFontSize": 31}},
  "shape": {"field": "s", "type": "nominal", "scale": {"domain": ["PMMA/PP 90/10", "PMMA/PP/PP-g-PMMA 90/10/1", "PMMA/PP/PP-g-PMMA 90/10/10"], "range": ["M-4.9,0L-1.1,0M1.1,0L4.9,0M0,-1L0,1M-0.87,-0.5L0.87,0.5M-0.87,0.5L0.87,-0.5", "M-4.9,0L-1.03,0M1.03,0L4.9,0M1.03,0A1.03,1.03,0,1,1,-1.03,0A1.03,1.03,0,1,1,1.03,0Z", "M-4.9,0L-1,0M1,0L4.9,0M0,-1L0.265,-0.364L0.951,-0.309L0.428,0.139L0.588,0.809L0,0.45L-0.588,0.809L-0.428,0.139L-0.951,-0.309L-0.265,-0.364Z"]},
    "legend": {"title": null, "orient": "none", "legendX": 25, "legendY": 314, "labelFontSize": 19, "labelFont": "Liberation Sans", "labelColor": "#1a1a1a", "labelLimit": 400, "symbolSize": 81, "labelOffset": 19, "rowPadding": 4, "encode": {"symbols": {"update": {"stroke": {"value": "#1a1a1a"}, "strokeWidth": {"value": 1}}}}}},
  "fill": {"field": "s", "type": "nominal", "scale": {"domain": ["PMMA/PP 90/10", "PMMA/PP/PP-g-PMMA 90/10/1", "PMMA/PP/PP-g-PMMA 90/10/10"], "range": ["transparent", "#1a1a1a", "#ffffff"]},
    "legend": {"title": null, "orient": "none", "legendX": 25, "legendY": 314, "labelFontSize": 19, "labelFont": "Liberation Sans", "labelColor": "#1a1a1a", "labelLimit": 400, "symbolSize": 81, "labelOffset": 19, "rowPadding": 4, "encode": {"symbols": {"update": {"stroke": {"value": "#1a1a1a"}, "strokeWidth": {"value": 1}}}}}}
 }},
{"data": {"name": "notes"}, "transform": [{"filter": "datum.p == 'b'"}],
 "mark": {"type": "text", "fontSize": 18, "align": "left", "baseline": "alphabetic", "color": "#1a1a1a"},
 "encoding": {
  "x": {"field": "t", "type": "quantitative", "scale": {"type": "log", "domain": [0.005, 1000]},
        "axis": {"orient": "top", "values": [0.01,0.1,1,10,100,1000], "labels": false, "tickSize": 7, "offset": -7, "title": null}},
  "y": {"field": "v", "type": "quantitative", "scale": {"type": "log", "domain": [5, 20000]},
        "axis": {"orient": "right", "values": [10,100,1000,10000], "labels": false, "tickSize": 7, "offset": -7, "title": null}},
  "text": {"field": "label"}
 }},
{"data": {"name": "notes"}, "transform": [{"filter": "datum.p == 'b'"}],
 "mark": {"type": "text", "fontSize": 18, "align": "right", "baseline": "alphabetic", "dx": -6, "color": "#1a1a1a"},
 "encoding": {
  "x": {"field": "t", "type": "quantitative", "scale": {"type": "log", "domain": [0.005, 1000]}, "axis": null},
  "y": {"field": "v", "type": "quantitative", "scale": {"type": "log", "domain": [5, 20000]}, "axis": null},
  "text": {"value": "τ"}
 }},
{"data": {"name": "notes"}, "transform": [{"filter": "datum.p == 'b'"}],
 "mark": {"type": "text", "fontSize": 11, "align": "left", "baseline": "alphabetic", "dx": -7, "dy": 7, "color": "#1a1a1a"},
 "encoding": {
  "x": {"field": "t", "type": "quantitative", "scale": {"type": "log", "domain": [0.005, 1000]}, "axis": null},
  "y": {"field": "v", "type": "quantitative", "scale": {"type": "log", "domain": [5, 20000]}, "axis": null},
  "text": {"field": "sub"}
 }},
{"data": {"name": "arrows"}, "transform": [{"filter": "datum.p == 'b'"}],
 "mark": {"type": "rule", "stroke": "#1a1a1a", "strokeWidth": 1},
 "encoding": {
  "x": {"field": "t", "type": "quantitative", "scale": {"type": "log", "domain": [0.005, 1000]},
        "axis": {"orient": "top", "values": [0.006,0.007,0.008,0.009,0.02,0.03,0.04,0.05,0.06,0.07,0.08,0.09,0.2,0.3,0.4,0.5,0.6,0.7,0.8,0.9,2,3,4,5,6,7,8,9,20,30,40,50,60,70,80,90,200,300,400,500,600,700,800,900], "labels": false, "tickSize": 4, "offset": -4, "title": null}},
  "y": {"field": "v", "type": "quantitative", "scale": {"type": "log", "domain": [5, 20000]},
        "axis": {"orient": "right", "values": [6,7,8,9,20,30,40,50,60,70,80,90,200,300,400,500,600,700,800,900,2000,3000,4000,5000,6000,7000,8000,9000], "labels": false, "tickSize": 4, "offset": -4, "title": null}},
  "x2": {"field": "t2"},
  "y2": {"field": "v2"}
 }},
{"data": {"name": "arrows"}, "transform": [{"filter": "datum.p == 'b'"}],
 "mark": {"type": "point", "shape": "triangle-up", "filled": true, "size": 28, "color": "#1a1a1a", "opacity": 1},
 "encoding": {
  "x": {"field": "t2", "type": "quantitative", "scale": {"type": "log", "domain": [0.005, 1000]}, "axis": null},
  "y": {"field": "v2", "type": "quantitative", "scale": {"type": "log", "domain": [5, 20000]}, "axis": null},
  "angle": {"condition": [{"test": "datum.id == 'b25'", "value": 199}, {"test": "datum.id == 'b76'", "value": 247}, {"test": "datum.id == 'b19'", "value": 11}], "value": 203}
 }}
]
}
]
}
